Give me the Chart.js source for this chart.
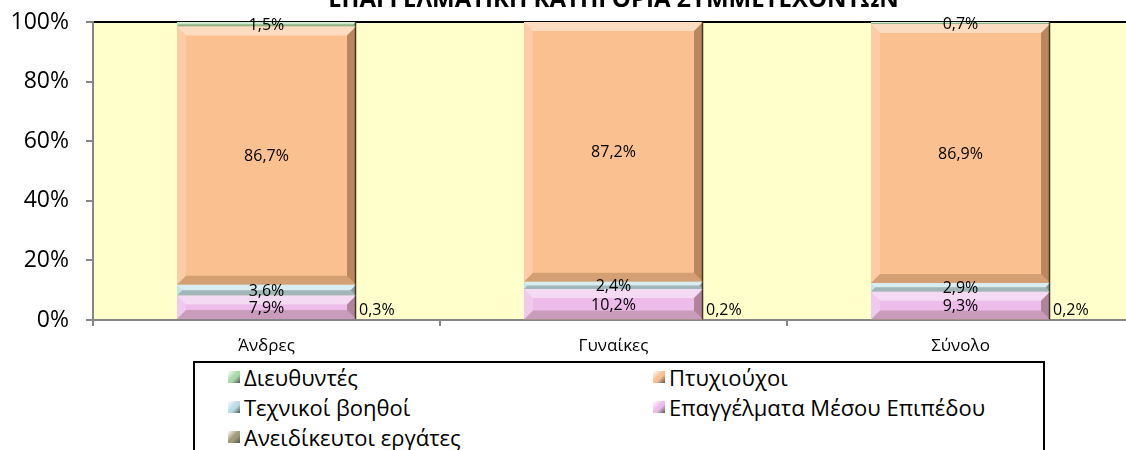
<!DOCTYPE html>
<html>
<head>
<meta charset="utf-8">
<script src="https://cdn.jsdelivr.net/npm/chart.js@4.4.0/dist/chart.umd.min.js"></script>
<style>
html,body{margin:0;padding:0;overflow:hidden;background:#fff;width:1126px;height:450px;}
#wrap{position:absolute;left:0;top:-14px;width:1134px;height:374px;}
#legend{position:absolute;left:193px;top:361px;width:852px;height:110px;border:2px solid #000;box-sizing:border-box;
  font-family:"Open Sans","Noto Sans",sans-serif;font-size:22px;color:#000;}
.item{position:absolute;display:flex;align-items:center;white-space:nowrap;height:30px;}
.mk{width:12px;height:12px;margin-right:4px;}
</style>
</head>
<body>
<div id="wrap"><canvas id="c"></canvas></div>
<div id="legend"></div>
<script>
const title = "ΕΠΑΓΓΕΛΜΑΤΙΚΗ ΚΑΤΗΓΟΡΙΑ ΣΥΜΜΕΤΕΧΟΝΤΩΝ";
const categories = ["Άνδρες", "Γυναίκες", "Σύνολο"];
const unskilled = [0.3, 0.2, 0.2];      // Ανειδίκευτοι εργάτες
const midLevel = [7.9, 10.2, 9.3];      // Επαγγέλματα Μέσου Επιπέδου
const technicians = [3.6, 2.4, 2.9];    // Τεχνικοί βοηθοί
const graduates = [86.7, 87.2, 86.9];   // Πτυχιούχοι
const managers = [1.5, 0, 0.7];         // Διευθυντές
const yTicks = [0, 20, 40, 60, 80, 100];

const seriesNames = ["Ανειδίκευτοι εργάτες","Επαγγέλματα Μέσου Επιπέδου","Τεχνικοί βοηθοί","Πτυχιούχοι","Διευθυντές"];
const seriesData = [unskilled, midLevel, technicians, graduates, managers];
const seriesColors = ["#A39C78","#EDBCEB","#B9DDE6","#FAC08F","#A8DAA8"];

const FONT = '"Open Sans","Noto Sans",sans-serif';

const bgPlugin = {
  id:'bg',
  beforeDraw(chart){
    const {ctx, chartArea:a} = chart;
    ctx.save();
    ctx.fillStyle = '#FFFFCC';
    ctx.fillRect(a.left, a.top, a.right-a.left, a.bottom-a.top);
    ctx.strokeStyle = '#000';
    ctx.lineWidth = 2;
    ctx.beginPath(); ctx.moveTo(a.left, a.top); ctx.lineTo(a.right+4, a.top); ctx.stroke();
    ctx.restore();
  }
};

function fmt(v){ return v.toFixed(1).replace('.', ',') + '%'; }

const bevelPlugin = {
  id:'bevel',
  afterDatasetsDraw(chart){
    const ctx = chart.ctx;
    ctx.save();
    chart.data.datasets.forEach((ds, di) => {
      const meta = chart.getDatasetMeta(di);
      meta.data.forEach((el, i) => {
        if (!ds.data[i]) return;
        const p = el.getProps(['x','y','base','width'], true);
        const l = p.x - p.width/2, r = p.x + p.width/2;
        const t = Math.min(p.y, p.base), b = Math.max(p.y, p.base);
        const h = b - t;
        const s = Math.min(9, h/2);
        if (h < 1) return;
        ctx.fillStyle = 'rgba(255,255,255,0.45)';
        ctx.beginPath(); ctx.moveTo(l,t); ctx.lineTo(r,t); ctx.lineTo(r-s,t+s); ctx.lineTo(l+s,t+s); ctx.closePath(); ctx.fill();
        ctx.fillStyle = 'rgba(255,255,255,0.2)';
        ctx.beginPath(); ctx.moveTo(l,t); ctx.lineTo(l+s,t+s); ctx.lineTo(l+s,b-s); ctx.lineTo(l,b); ctx.closePath(); ctx.fill();
        ctx.fillStyle = 'rgba(60,30,0,0.35)';
        ctx.beginPath(); ctx.moveTo(r,t); ctx.lineTo(r,b); ctx.lineTo(r-s,b-s); ctx.lineTo(r-s,t+s); ctx.closePath(); ctx.fill();
        ctx.fillStyle = 'rgba(60,30,0,0.2)';
        ctx.beginPath(); ctx.moveTo(l,b); ctx.lineTo(r,b); ctx.lineTo(r-s,b-s); ctx.lineTo(l+s,b-s); ctx.closePath(); ctx.fill();
        ctx.strokeStyle = 'rgba(40,30,20,0.8)';
        ctx.lineWidth = 1.5;
        ctx.beginPath(); ctx.moveTo(r-0.5,t); ctx.lineTo(r-0.5,b); ctx.stroke();
      });
    });
    ctx.restore();
  }
};

const labelPlugin = {
  id:'lbls',
  afterDatasetsDraw(chart){
    const ctx = chart.ctx;
    ctx.save();
    ctx.font = '16px ' + FONT;
    ctx.fillStyle = '#000';
    chart.data.datasets.forEach((ds, di) => {
      const meta = chart.getDatasetMeta(di);
      meta.data.forEach((el, i) => {
        const v = ds.data[i];
        if (!v) return;
        const p = el.getProps(['x','y','base','width'], true);
        if (di === 0) {
          ctx.textAlign = 'left'; ctx.textBaseline = 'middle';
          ctx.fillText(fmt(v), p.x + p.width/2 + 3, p.base - 9);
        } else {
          ctx.textAlign = 'center'; ctx.textBaseline = 'middle';
          ctx.fillText(fmt(v), p.x, (p.y + p.base)/2 + 1);
        }
      });
    });
    ctx.restore();
  }
};

new Chart(document.getElementById('c'), {
  type:'bar',
  data:{
    labels: categories,
    datasets: seriesNames.map((n, k) => ({
      label:n, data:seriesData[k], backgroundColor:seriesColors[k], borderWidth:0,
      categoryPercentage:1, barPercentage:0.516
    }))
  },
  options:{
    responsive:true, maintainAspectRatio:false, animation:false,
    layout:{padding:{left:0,right:0,top:0,bottom:0}},
    plugins:{
      legend:{display:false},
      tooltip:{enabled:false},
      title:{display:true, fullSize:false, text:title, color:'#000', font:{family:FONT, size:24, weight:'bold'}, padding:{top:0,bottom:7.2}}
    },
    scales:{
      x:{
        stacked:true,
        grid:{display:true, drawOnChartArea:false, drawTicks:true, tickLength:6, color:'#868686', lineWidth:2, offset:true},
        border:{color:'#868686', width:2},
        ticks:{color:'#000', font:{family:FONT, size:17}, padding:10},
        afterFit(s){ s.height = 40; }
      },
      y:{
        stacked:true, min:0, max:100,
        afterBuildTicks(s){ s.ticks = yTicks.map(v => ({value:v})); },
        grid:{display:true, drawOnChartArea:false, drawTicks:true, tickLength:7, color:'#868686', lineWidth:2},
        border:{color:'#868686', width:2},
        ticks:{color:'#000', font:{family:FONT, size:23}, padding:17, callback:v => v + '%'},
        afterFit(s){ s.width = 93; }
      }
    }
  },
  plugins:[bgPlugin, bevelPlugin, labelPlugin]
});

const lg = document.getElementById('legend');
const order = [4,3,2,1,0];
order.forEach((k, idx) => {
  const row = Math.floor(idx/2), col = idx % 2;
  const d = document.createElement('div');
  d.className = 'item';
  d.style.left = (col === 0 ? 33 : 458) + 'px';
  d.style.top = (row*30 - 1) + 'px';
  const m = document.createElement('span');
  m.className = 'mk';
  m.style.background = 'linear-gradient(135deg, #fff 0%, ' + seriesColors[k] + ' 45%, ' + seriesColors[k] + ' 60%, #555 100%)';
  const t = document.createElement('span');
  t.textContent = seriesNames[k];
  d.appendChild(m); d.appendChild(t);
  lg.appendChild(d);
});
</script>
</body>
</html>
